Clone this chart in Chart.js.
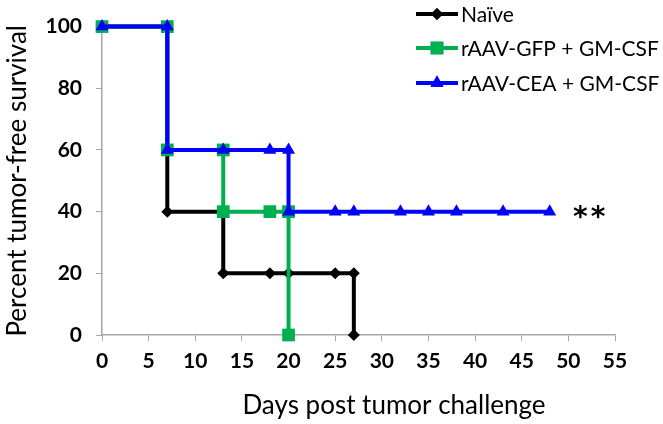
<!DOCTYPE html>
<html>
<head>
<meta charset="utf-8">
<script src="https://cdn.jsdelivr.net/npm/chart.js@4.4.1/dist/chart.umd.min.js"></script>
<style>
  body { margin: 0; background: #fff; }
  #wrap { width: 663px; height: 424px; }
</style>
</head>
<body>
<div id="wrap"><canvas id="survivalChart" width="663" height="424"></canvas></div>
<script>
// Datos (dias y % de supervivencia libre de tumor)
const naiveDays = [0, 7, 7, 13, 13, 18, 20, 25, 27, 27];
const naiveSurvival = [100, 100, 40, 40, 20, 20, 20, 20, 20, 0];

const gfpDays = [0, 7, 7, 13, 13, 18, 20, 20];
const gfpSurvival = [100, 100, 60, 60, 40, 40, 40, 0];

const ceaDays = [0, 7, 7, 13, 18, 20, 20, 25, 27, 32, 35, 38, 43, 48];
const ceaSurvival = [100, 100, 60, 60, 60, 60, 40, 40, 40, 40, 40, 40, 40, 40];

const seriesLabels = ['Naïve', 'rAAV-GFP + GM-CSF', 'rAAV-CEA + GM-CSF'];
const xTicks = [0, 5, 10, 15, 20, 25, 30, 35, 40, 45, 50, 55];
const yTicks = [0, 20, 40, 60, 80, 100];
const xTitle = 'Days post tumor challenge';
const yTitle = 'Percent tumor-free survival';
const significance = '**';

const FONT = 'Lato, "Open Sans", sans-serif';
const AXIS_GRAY = '#a6a6a6';

function toPoints(days, values) {
    return days.map((d, i) => ({ x: d, y: values[i] }));
}

// Leyenda al estilo Excel (linea + marcador + texto), titulo X y asteriscos
const excelLegend = {
    id: 'excelLegend',
    afterDraw(chart) {
        const ctx = chart.ctx;
        const rows = [14, 48, 83];
        chart.data.datasets.forEach((ds, i) => {
            const y = rows[i];
            ctx.save();
            ctx.strokeStyle = ds.borderColor;
            ctx.lineWidth = 4;
            ctx.beginPath();
            ctx.moveTo(416, y);
            ctx.lineTo(458, y);
            ctx.stroke();
            ctx.fillStyle = ds.pointBackgroundColor;
            Chart.helpers.drawPoint(ctx, {
                pointStyle: ds.pointStyle,
                radius: ds.pointRadius,
                borderWidth: 0,
                rotation: 0
            }, 437, y);
            ctx.fill();
            ctx.fillStyle = '#000';
            ctx.font = '21px ' + FONT;
            ctx.textBaseline = 'middle';
            ctx.textAlign = 'left';
            ctx.fillText(ds.label, 461, y + 1);
            ctx.restore();
        });

        // titulo del eje X (en el original no esta centrado en el area)
        ctx.save();
        ctx.fillStyle = '#000';
        ctx.font = '26px ' + FONT;
        ctx.textAlign = 'center';
        ctx.textBaseline = 'middle';
        ctx.fillText(xTitle, 394, 406);
        ctx.restore();

        // asteriscos de significancia
        const xs = chart.scales.x, ys = chart.scales.y;
        ctx.save();
        ctx.fillStyle = '#000';
        ctx.font = 'bold 28px "DejaVu Sans", sans-serif';
        ctx.letterSpacing = '3px';
        ctx.textBaseline = 'middle';
        ctx.textAlign = 'left';
        ctx.fillText(significance, xs.getPixelForValue(50.5), ys.getPixelForValue(40) + 7);
        ctx.restore();
    }
};

function makeDataset(label, days, values, color, style, radius, order) {
    return {
        label: label,
        data: toPoints(days, values),
        borderColor: color,
        backgroundColor: color,
        pointBackgroundColor: color,
        pointBorderColor: color,
        pointBorderWidth: 0,
        pointStyle: style,
        pointRadius: radius,
        pointHoverRadius: radius,
        borderWidth: 4,
        tension: 0,
        clip: false,
        order: order
    };
}

const ctx = document.getElementById('survivalChart').getContext('2d');
const survivalChart = new Chart(ctx, {
    type: 'line',
    data: {
        datasets: [
            makeDataset(seriesLabels[0], naiveDays, naiveSurvival, '#000000', 'rectRot', 6, 3),
            makeDataset(seriesLabels[1], gfpDays, gfpSurvival, '#00b050', 'rect', 9, 2),
            makeDataset(seriesLabels[2], ceaDays, ceaSurvival, '#0000ff', 'triangle', 7.5, 1)
        ]
    },
    options: {
        responsive: false,
        animation: false,
        events: [],
        layout: { padding: { top: 25, right: 48, left: 0, bottom: 0 } },
        plugins: {
            legend: { display: false },
            tooltip: { enabled: false }
        },
        scales: {
            x: {
                type: 'linear',
                min: 0,
                max: 55,
                afterBuildTicks: (scale) => { scale.ticks = xTicks.map(v => ({ value: v })); },
                afterFit: (scale) => { scale.height = 89; },
                grid: { drawOnChartArea: false, drawTicks: true, tickLength: 6, color: AXIS_GRAY },
                border: { color: AXIS_GRAY, width: 1.5 },
                ticks: { color: '#000', font: { family: FONT, size: 21, weight: 'bold' }, padding: 8, maxRotation: 0 },
                title: { display: false }
            },
            y: {
                min: 0,
                max: 100,
                afterBuildTicks: (scale) => { scale.ticks = yTicks.map(v => ({ value: v })); },
                afterFit: (scale) => { scale.width = 102; },
                grid: { drawOnChartArea: false, drawTicks: true, tickLength: 6, color: AXIS_GRAY },
                border: { color: AXIS_GRAY, width: 1.5 },
                ticks: { color: '#000', font: { family: FONT, size: 21, weight: 'bold' }, padding: 14 },
                title: { display: true, text: yTitle, color: '#000', font: { family: FONT, size: 26 }, padding: { bottom: 0, top: 2 } }
            }
        }
    },
    plugins: [excelLegend]
});
</script>
</body>
</html>
